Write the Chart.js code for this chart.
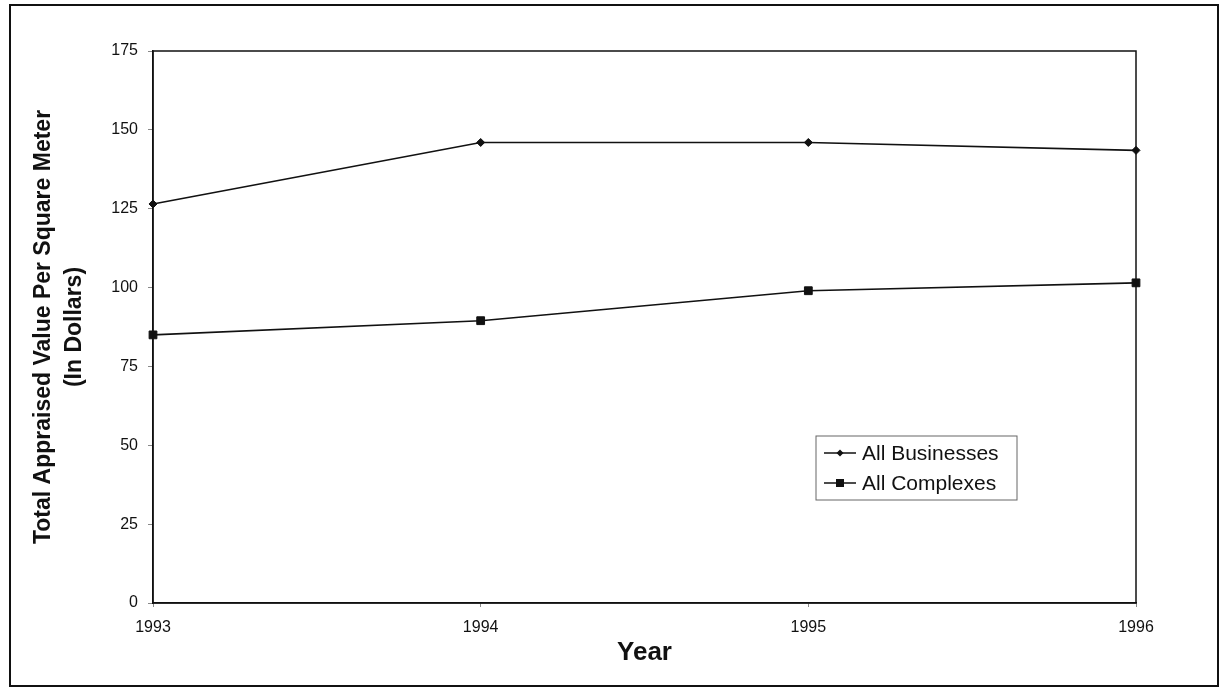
<!DOCTYPE html>
<html>
<head>
<meta charset="utf-8">
<script src="https://cdn.jsdelivr.net/npm/chart.js@4.4.0/dist/chart.umd.min.js"></script>
<style>
  html, body { margin: 0; padding: 0; background: #fff; }
</style>
</head>
<body>
<canvas id="myChart" width="1220" height="692"></canvas>
<script>
// values
const years = ['1993', '1994', '1995', '1996'];
const allBusinesses = [126.5, 146, 146, 143.5];
const allComplexes = [85, 89.5, 99, 101.5];
const seriesNames = ['All Businesses', 'All Complexes'];
const yMin = 0, yMax = 175, yStep = 25;

const FONT = 'Arial, "Liberation Sans", sans-serif';

// outer frame + box round the plot + legend inside the plot
const framePlugin = {
  id: 'frame',
  beforeDraw(chart) {
    const ctx = chart.ctx;
    ctx.save();
    ctx.fillStyle = '#fff';
    ctx.fillRect(0, 0, chart.width, chart.height);
    ctx.strokeStyle = '#111';
    ctx.lineWidth = 2;
    ctx.strokeRect(10, 5, 1208, 681);
    ctx.restore();
  },
  afterDraw(chart) {
    const ctx = chart.ctx;
    const a = chart.chartArea;
    ctx.save();
    ctx.strokeStyle = '#111';
    ctx.lineWidth = 1.5;
    ctx.strokeRect(a.left, a.top, a.right - a.left, a.bottom - a.top);

    // legend box
    const lx = 816, ly = 436, lw = 201, lh = 64;
    ctx.lineWidth = 1;
    ctx.strokeStyle = '#666';
    ctx.strokeRect(lx, ly, lw, lh);
    ctx.font = '21px ' + FONT;
    ctx.textBaseline = 'middle';
    ctx.fillStyle = '#111';
    chart.data.datasets.forEach(function(ds, i) {
      const y = ly + 17 + i * 30;
      ctx.strokeStyle = '#111';
      ctx.lineWidth = 1.5;
      ctx.beginPath();
      ctx.moveTo(824, y);
      ctx.lineTo(856, y);
      ctx.stroke();
      ctx.beginPath();
      if (ds.pointStyle === 'rect') {
        ctx.rect(840 - 4, y - 4, 8, 8);
      } else {
        ctx.moveTo(840, y - 3.5);
        ctx.lineTo(843.5, y);
        ctx.lineTo(840, y + 3.5);
        ctx.lineTo(836.5, y);
        ctx.closePath();
      }
      ctx.fill();
      ctx.fillText(ds.label, 862, y + 1);
    });
    ctx.restore();
  }
};

const config = {
  type: 'line',
  data: {
    labels: years,
    datasets: [
      {
        label: seriesNames[0],
        data: allBusinesses,
        borderColor: '#111',
        backgroundColor: '#111',
        borderWidth: 1.6,
        pointStyle: 'rectRot',
        pointRadius: 4,
        pointBorderWidth: 1,
        tension: 0,
        fill: false
      },
      {
        label: seriesNames[1],
        data: allComplexes,
        borderColor: '#111',
        backgroundColor: '#111',
        borderWidth: 1.6,
        pointStyle: 'rect',
        pointRadius: 5.5,
        pointBorderWidth: 1,
        tension: 0,
        fill: false
      }
    ]
  },
  options: {
    responsive: false,
    animation: false,
    layout: {
      padding: {left: 0, top: 51, right: 84, bottom: 20}
    },
    plugins: {
      legend: {display: false},
      tooltip: {enabled: false}
    },
    scales: {
      x: {
        offset: false,
        grid: {
          drawOnChartArea: false,
          drawTicks: true,
          tickLength: 4,
          color: '#888'
        },
        border: {color: '#111', width: 1.5},
        ticks: {
          color: '#111',
          padding: 11,
          maxRotation: 0,
          font: {family: FONT, size: 16}
        },
        title: {
          display: true,
          text: 'Year',
          color: '#111',
          font: {family: FONT, size: 26, weight: 'bold'},
          padding: {top: 0, bottom: 4}
        },
        afterFit: function(scale) { scale.height = 69; }
      },
      y: {
        min: yMin,
        max: yMax,
        grid: {
          drawOnChartArea: false,
          drawTicks: true,
          tickLength: 5,
          color: '#888'
        },
        border: {color: '#111', width: 1.5},
        ticks: {
          stepSize: yStep,
          color: '#111',
          padding: 10,
          font: {family: FONT, size: 16}
        },
        title: {
          display: true,
          text: ['Total Appraised Value Per Square Meter', '(In Dollars)'],
          color: '#111',
          font: {family: FONT, size: 23, weight: 'bold', lineHeight: 1.35},
          padding: {top: 28, bottom: 0}
        },
        afterFit: function(scale) { scale.width = 153; }
      }
    }
  },
  plugins: [framePlugin]
};

var myChart = new Chart(document.getElementById('myChart'), config);
</script>
</body>
</html>
